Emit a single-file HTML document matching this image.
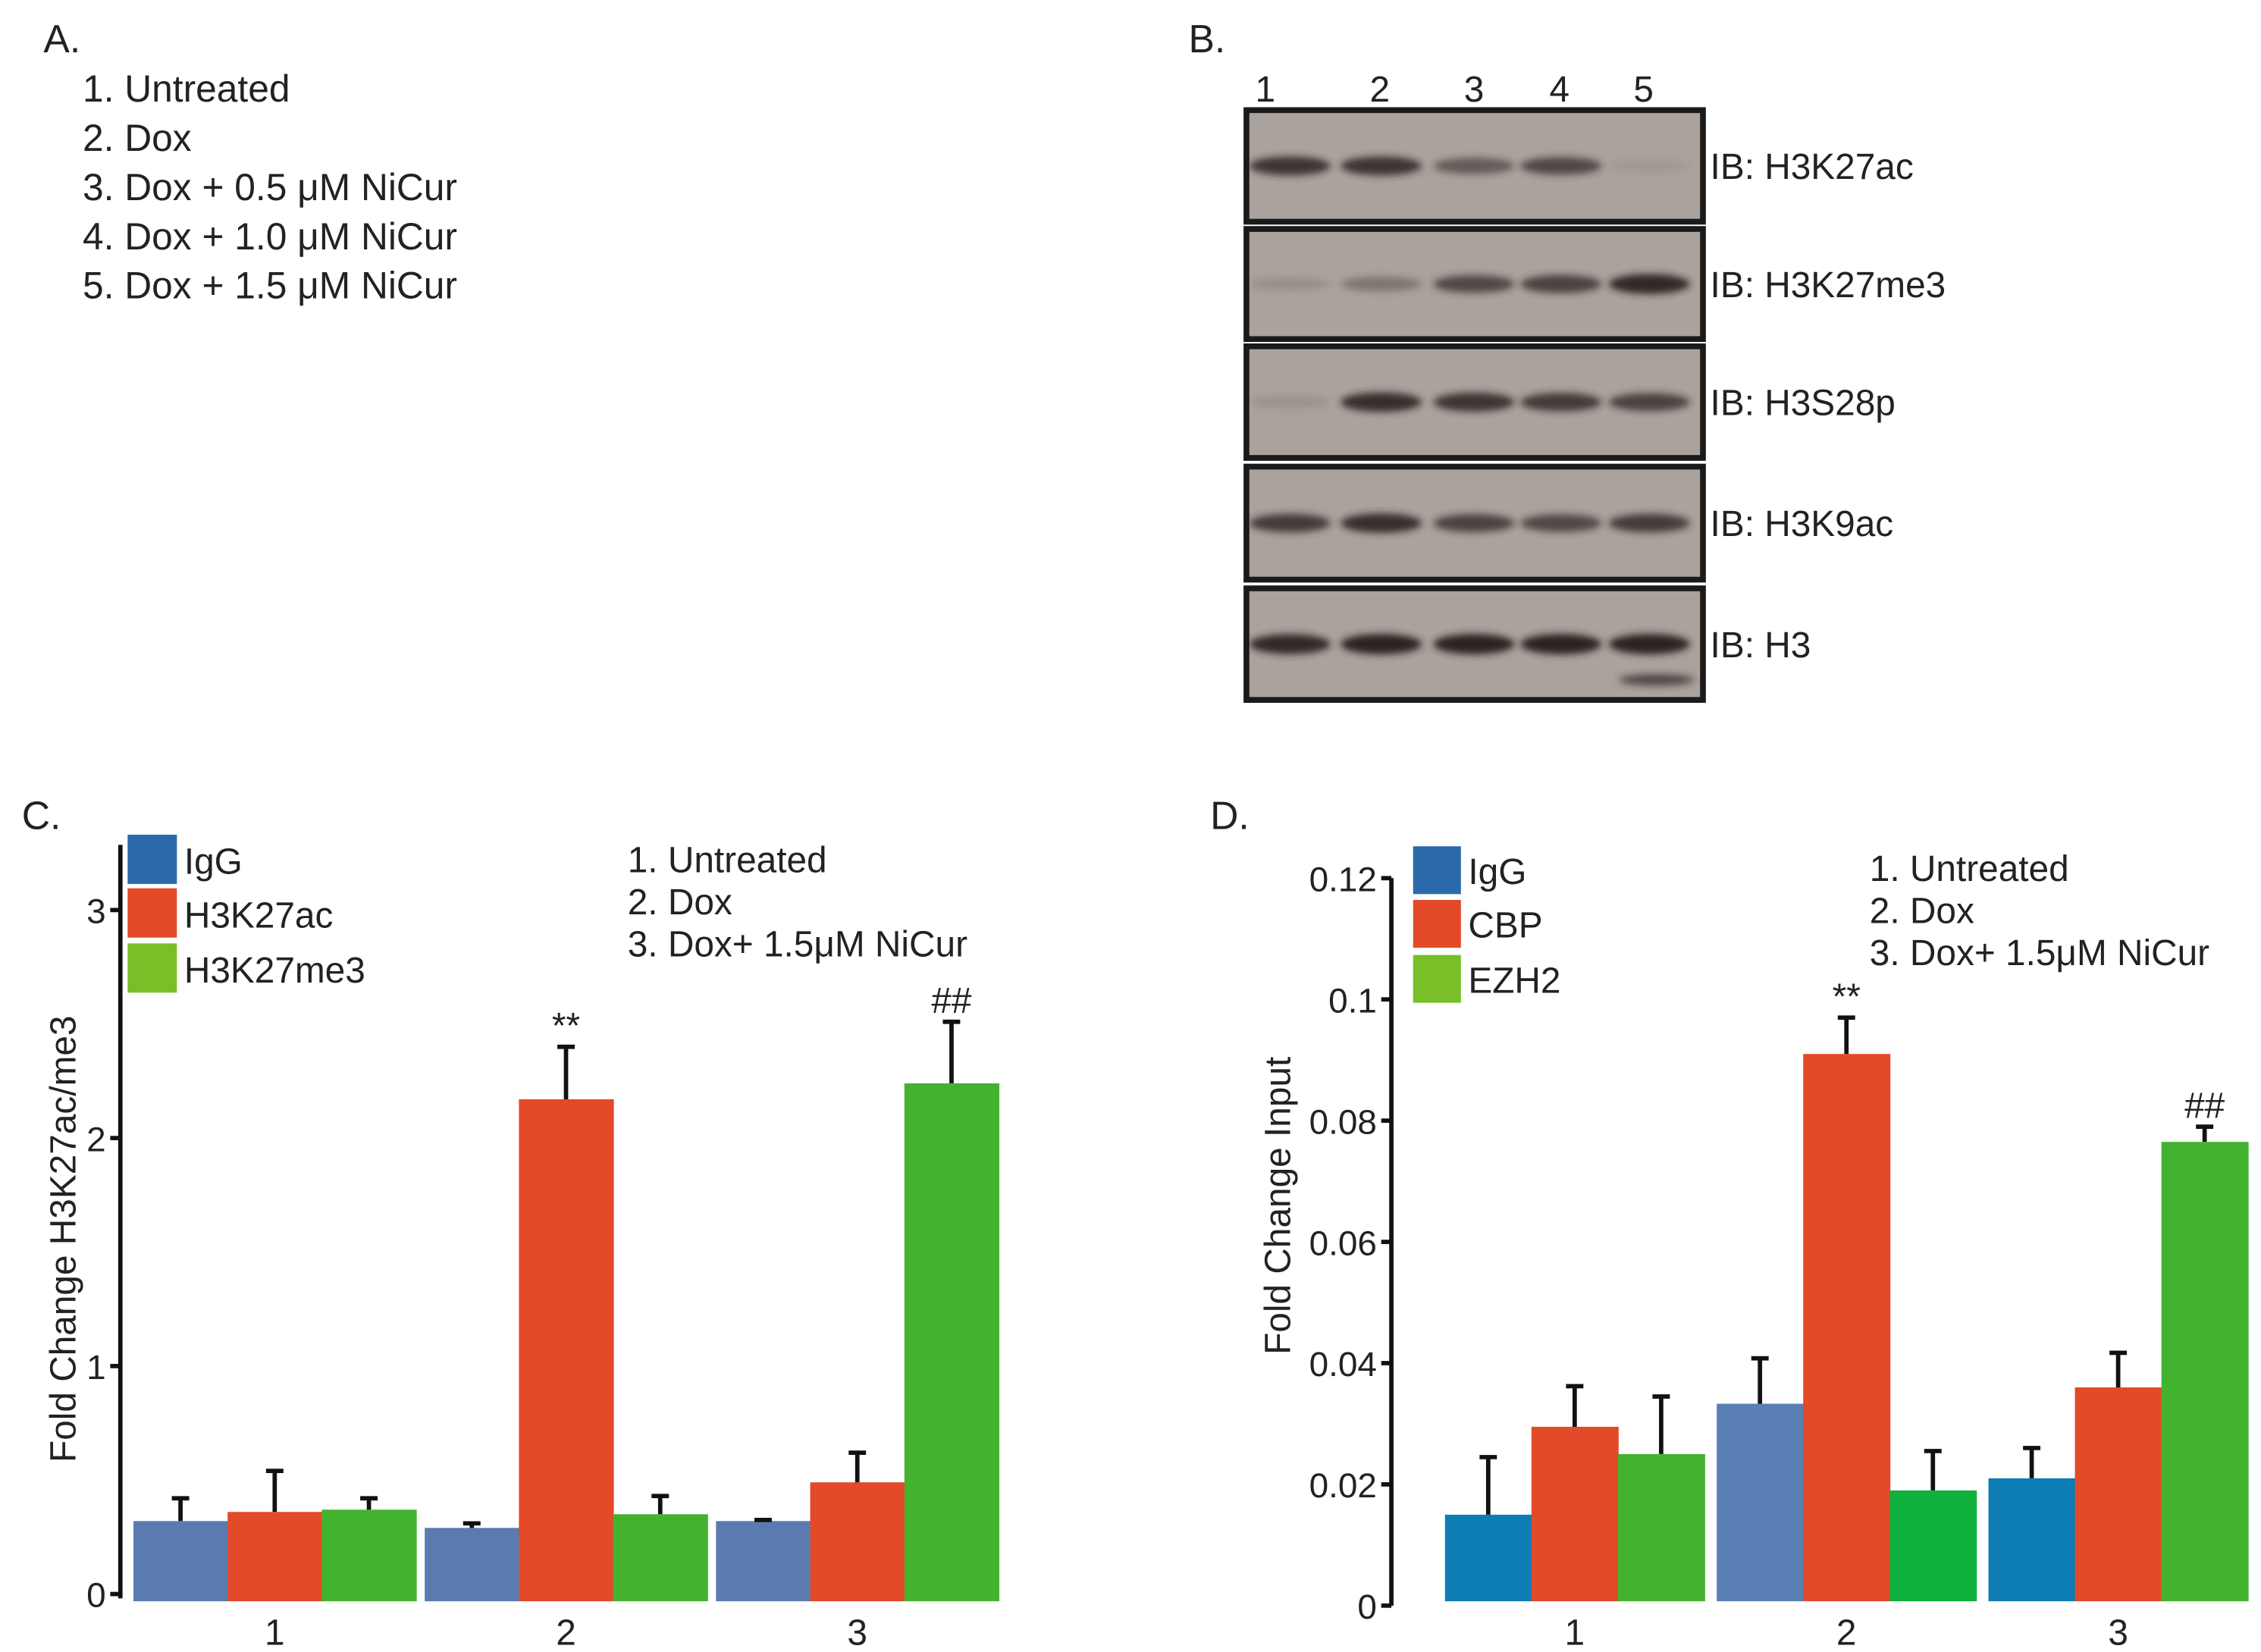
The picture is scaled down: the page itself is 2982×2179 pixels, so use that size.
<!DOCTYPE html>
<html><head><meta charset="utf-8">
<style>
html,body{margin:0;padding:0;background:#fff;}
svg{display:block;font-family:"Liberation Sans",sans-serif;}
</style></head>
<body>
<svg id="fig" width="2982" height="2179" viewBox="0 0 1560 1140" xmlns="http://www.w3.org/2000/svg">
<defs>
<filter id="blur" x="-20%" y="-200%" width="140%" height="500%"><feGaussianBlur stdDeviation="2.5"/></filter>
</defs>
<g font-size="26" fill="#222">
<text x="30" y="36" font-size="27">A.</text>
<text x="57" y="70">1. Untreated</text>
<text x="57" y="104">2. Dox</text>
<text x="57" y="138">3. Dox + 0.5 μM NiCur</text>
<text x="57" y="172">4. Dox + 1.0 μM NiCur</text>
<text x="57" y="206">5. Dox + 1.5 μM NiCur</text>
</g>
<g id="blots">
<text x="820" y="36" font-size="27" fill="#222">B.</text>
</g>
<g id="chartC"></g>
<g id="chartD"></g>
</svg>
<script>
const NS="http://www.w3.org/2000/svg";
function mk(parent,tag,attrs,text){const e=document.createElementNS(NS,tag);for(const k in attrs)e.setAttribute(k,attrs[k]);if(text!==undefined)e.textContent=text;parent.appendChild(e);return e;}

// ---------- Blot data ----------
const laneLabels=["1","2","3","4","5"];
const blotNames=["IB: H3K27ac","IB: H3K27me3","IB: H3S28p","IB: H3K9ac","IB: H3"];
const bandH3K27ac=[0.85,0.85,0.55,0.7,0.08];
const bandH3K27me3=[0.15,0.35,0.7,0.75,0.95];
const bandH3S28p=[0.12,0.9,0.85,0.8,0.75];
const bandH3K9ac=[0.8,0.9,0.75,0.7,0.8];
const bandH3=[0.95,1,1,1,1];
const blotBands=[bandH3K27ac,bandH3K27me3,bandH3S28p,bandH3K9ac,bandH3];

const B=document.getElementById('blots');
const laneX=[890,953,1017,1077,1138];
const rowsTop=[76,158,239,322,406], rowH=[77,76,77,78,77];
laneLabels.forEach((l,i)=>{
  const t=mk(B,'text',{x:[873,952,1017,1076,1134][i],y:70,'font-size':25,'text-anchor':'middle',fill:'#222'},l);
  
  
});
blotNames.forEach((n,r)=>{
  const g=mk(B,'g',{});
  
  
  const y=rowsTop[r],h=rowH[r];
  mk(g,'rect',{x:860,y:y,width:315,height:h,fill:'#aaa29c',stroke:'#1a1a1a','stroke-width':4});
  const by=y+h*0.5;
  blotBands[r].forEach((v,i)=>{
    const b=mk(g,'ellipse',{cx:laneX[i],cy:by,rx:28,ry:4+v*3,fill:'#2a2420',opacity:v,filter:'url(#blur)'});
    
    
  });
  if(r===4){mk(g,'ellipse',{cx:1143,cy:y+h*0.82,rx:26,ry:4,fill:'#2a2420',opacity:0.7,filter:'url(#blur)'});}
  const t=mk(g,'text',{x:1180,y:y+h/2+9,'font-size':25,fill:'#222'},n);
  
  
});

// ---------- Chart C data ----------
const cGroups=["1","2","3"];
const cSeries=["IgG","H3K27ac","H3K27me3"];
const cIgG=[0.32,0.29,0.32];
const cH3K27ac=[0.36,2.17,0.49];
const cH3K27me3=[0.37,0.35,2.24];
const cIgGErr=[0.1,0.02,0.005];
const cH3K27acErr=[0.18,0.23,0.13];
const cH3K27me3Err=[0.05,0.08,0.27];
const cTicks=[0,1,2,3];
const cTickLabels=["0","1","2","3"];

// ---------- Chart D data ----------
const dGroups=["1","2","3"];
const dSeries=["IgG","CBP","EZH2"];
const dIgG=[0.015,0.0333,0.021];
const dCBP=[0.0295,0.091,0.036];
const dEZH2=[0.025,0.019,0.0765];
const dIgGErr=[0.0095,0.0075,0.005];
const dCBPErr=[0.0067,0.006,0.0057];
const dEZH2Err=[0.0095,0.0065,0.0025];
const dTicks=[0,0.02,0.04,0.06,0.08,0.1,0.12];
const dTickLabels=["0","0.02","0.04","0.06","0.08","0.1","0.12"];

function drawChart(cfg){
  const g=document.getElementById(cfg.id);
  const y=v=>cfg.y0-(v-cfg.vmin)/(cfg.vmax-cfg.vmin)*(cfg.y0-cfg.y1);
  const pl=mk(g,'text',{x:cfg.letterX,y:572,'font-size':27,fill:'#222'},cfg.letter);
  
  
  const groupW=cfg.groupW, barW=groupW/3;
  cfg.groups.forEach((gname,gi)=>{
    const gx=cfg.gx0+gi*cfg.gStep;
    cfg.values.forEach((ser,si)=>{
      const v=ser[gi], e=cfg.errs[si][gi];
      const x=gx+si*barW, top=y(v);
      const col=cfg.barColors[si][gi];
      const r=mk(g,'rect',{x:x,y:top,width:barW+0.5,height:cfg.base-top,fill:col});
      
      
      const cx=x+barW/2, et=y(v+e);
      const eb=mk(g,'path',{d:`M${cx},${top} V${et} M${cx-6},${et} H${cx+6}`,stroke:'#111','stroke-width':3,fill:'none'});
      
      
    });
    const xl=mk(g,'text',{x:gx+groupW/2,y:1135,'font-size':25,'text-anchor':'middle',fill:'#222'},gname);
    
    
  });
  cfg.marks.forEach(m=>{
    const gx=cfg.gx0+m.g*cfg.gStep+m.s*barW+barW/2;
    const v=cfg.values[m.s][m.g]+cfg.errs[m.s][m.g];
    const t=mk(g,'text',{x:gx,y:y(v)-6,'font-size':25,'text-anchor':'middle',fill:'#222'},m.t);
    
    
  });
  const ax=mk(g,'line',{x1:cfg.axX,y1:cfg.axTop,x2:cfg.axX,y2:cfg.axBot,stroke:'#111','stroke-width':3});
  
  
  cfg.ticks.forEach((tv,i)=>{
    const ty=y(tv);
    mk(g,'line',{x1:cfg.axX-7,y1:ty,x2:cfg.axX,y2:ty,stroke:'#111','stroke-width':3});
    const tl=mk(g,'text',{x:cfg.axX-10,y:ty+9,'font-size':24,'text-anchor':'end',fill:'#222'},cfg.tickLabels[i]);
    
    
  });
  const yt=mk(g,'text',{x:0,y:0,'font-size':25,'text-anchor':'middle',fill:'#222',transform:`translate(${cfg.titleX},${cfg.titleY}) rotate(-90)`},cfg.title);
  
  
  cfg.series.forEach((s,i)=>{
    const ly=cfg.legY[i];
    const lr=mk(g,'rect',{x:cfg.legX,y:ly,width:cfg.legW,height:cfg.legH,fill:cfg.legColors[i]});
    
    
    const lt=mk(g,'text',{x:cfg.legX+cfg.legW+5,y:ly+cfg.legH-7,'font-size':25,fill:'#222'},s);
    
    
  });
  ["1. Untreated","2. Dox","3. Dox+ 1.5μM NiCur"].forEach((s,i)=>{
    const t=mk(g,'text',{x:cfg.trX,y:cfg.trY+i*29,'font-size':25,fill:'#222'},s);
    
    
  });
}

drawChart({id:'chartC',letter:'C.',letterX:15,groups:cGroups,series:cSeries,
  values:[cIgG,cH3K27ac,cH3K27me3],errs:[cIgGErr,cH3K27acErr,cH3K27me3Err],
  barColors:[["#5b7bb0","#5b7bb0","#5b7bb0"],["#e24a29","#e24a29","#e24a29"],["#43b32f","#43b32f","#43b32f"]],
  legColors:["#2a6aaa","#e24a29","#78bf28"],
  vmin:0,vmax:3,y0:1100,y1:628,base:1105,gx0:92,gStep:201,groupW:195,
  axX:83,axTop:583,axBot:1103,ticks:cTicks,tickLabels:cTickLabels,
  title:"Fold Change H3K27ac/me3",titleX:52,titleY:855,
  legX:88,legY:[576,613,651],legW:34,legH:34,trX:433,trY:602,
  marks:[{g:1,s:1,t:"**"},{g:2,s:2,t:"##"}]});

drawChart({id:'chartD',letter:'D.',letterX:835,groups:dGroups,series:dSeries,
  values:[dIgG,dCBP,dEZH2],errs:[dIgGErr,dCBPErr,dEZH2Err],
  barColors:[["#0e7cb5","#5a7fb5","#0e7cb5"],["#e24a29","#e24a29","#e24a29"],["#43b32f","#10b03c","#43b32f"]],
  legColors:["#2a6aaa","#e24a29","#78bf28"],
  vmin:0,vmax:0.12,y0:1108,y1:606,base:1105,gx0:997,gStep:187.5,groupW:179,
  axX:960,axTop:606,axBot:1108,ticks:dTicks,tickLabels:dTickLabels,
  title:"Fold Change Input",titleX:890,titleY:832,
  legX:975,legY:[584,621,659],legW:33,legH:33,trX:1290,trY:608,
  marks:[{g:1,s:1,t:"**"},{g:2,s:2,t:"##"}]});
</script>
</body></html>
